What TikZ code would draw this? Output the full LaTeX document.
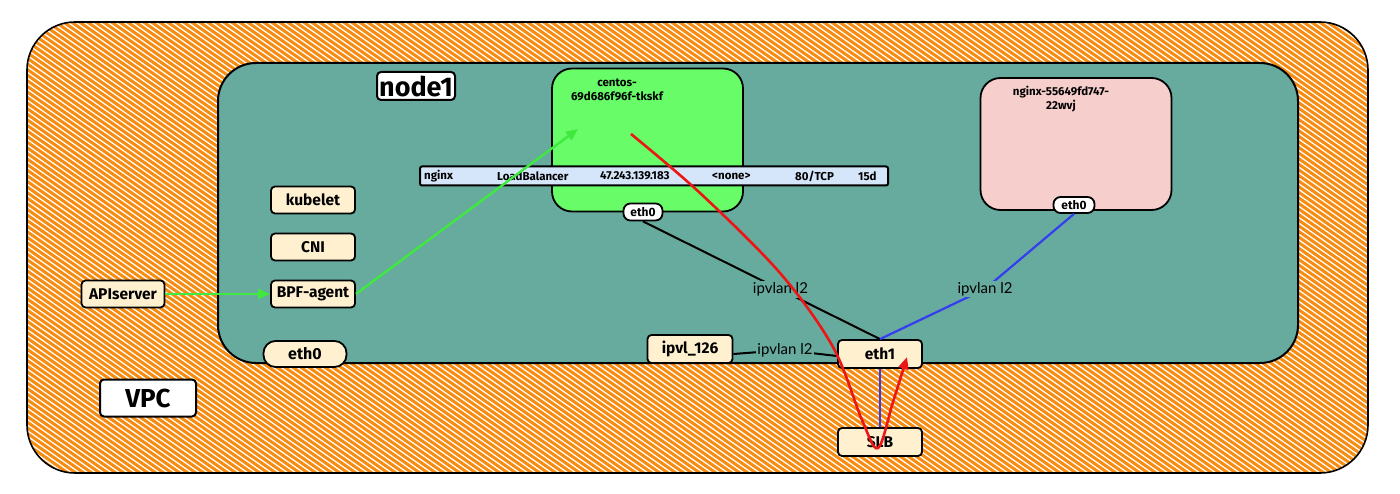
\documentclass[tikz,border=0pt]{standalone}
\usepackage{fontspec}
\setmainfont{Fira Sans}
\newfontfamily\lblfont{Lato}
\usetikzlibrary{arrows.meta}
\definecolor{hatchor}{RGB}{247,140,18}
\definecolor{tealbg}{RGB}{103,171,159}
\definecolor{podgreen}{RGB}{104,252,104}
\definecolor{podpink}{RGB}{246,206,204}
\definecolor{cream}{RGB}{255,241,208}
\definecolor{tblblue}{RGB}{214,230,250}
\definecolor{arrgreen}{RGB}{64,232,64}
\definecolor{arrred}{RGB}{236,22,22}
\definecolor{arrblue}{RGB}{52,62,240}
\tikzset{
  hatch/.style={hatchor, line width=3pt},
  cbox/.style={draw=black, line width=1.8pt, fill=cream, rounded corners=4pt,
    font=\bfseries\fontsize{15.5}{17}\selectfont, inner sep=0pt},
  pill/.style={draw=black, line width=1.8pt, fill=white, rounded corners=7pt,
    font=\bfseries\fontsize{12}{13}\selectfont, inner sep=0pt},
  podbox/.style={draw=black, line width=1.8pt, rounded corners=20pt, inner sep=0pt},
  tbltxt/.style={font=\bfseries\fontsize{11.5}{12}\selectfont, anchor=west, inner sep=0pt},
  lbl/.style={font=\lblfont\fontsize{15}{17}\selectfont, fill=tealbg, inner sep=1.5pt},
  blk/.style={black, line width=2pt},
  blu/.style={arrblue, line width=2.2pt},
  grn/.style={arrgreen, line width=2.4pt, -{Triangle[length=12pt,width=10pt]}},
  rd/.style={arrred, line width=2.6pt, -{Triangle[length=12pt,width=10pt]}},
}
\begin{document}
\begin{tikzpicture}[x=1pt,y=-1pt]
\useasboundingbox (0,0) rectangle (1400,494);
% VPC hatched area
\begin{scope}
  \clip[rounded corners=48pt] (27,22) rectangle (1368,473);
  \foreach \i in {-95,...,178} { \draw[hatch] ({\i*8},0) -- ++(706,494); }
\end{scope}
\draw[black, line width=1.6pt, rounded corners=48pt] (27,22) rectangle (1368,473);
% node1 area
\node[draw=black, line width=2pt, fill=tealbg, rounded corners=38pt, minimum width=1080pt, minimum height=300pt, inner sep=0pt] (node1area) at (758,213) {};
\node[draw=black, line width=2pt, fill=white, rounded corners=4pt, minimum width=78pt, minimum height=28pt, inner sep=0pt, font=\bfseries\fontsize{27}{28}\selectfont] (node1lbl) at (416,86) {node1};
% VPC label
\node[draw=black, line width=2pt, fill=white, rounded corners=4pt, minimum width=96pt, minimum height=37pt, inner sep=0pt, font=\fontsize{26}{28}\selectfont\bfseries] (vpclbl) at (148,398) {VPC};
% pods
\node[podbox, fill=podgreen, minimum width=191pt, minimum height=143pt] (centos) at (647.5,140) {};
\node[font=\bfseries\fontsize{11.5}{13.5}\selectfont, align=center, inner sep=0pt] (centostxt) at (617,90) {centos-\\69d686f96f-tkskf};
\node[podbox, fill=podpink, minimum width=191pt, minimum height=132pt] (nginxpod) at (1076,144) {};
\node[font=\bfseries\fontsize{11.5}{13.5}\selectfont, align=center, inner sep=0pt] (nginxtxt) at (1061,99) {nginx-55649fd747-\\22wvj};
% service table row
\node[draw=black, line width=2pt, fill=tblblue, rounded corners=2pt, minimum width=468pt, minimum height=19pt, inner sep=0pt] (svc) at (654,176) {};
\node[tbltxt] (t1) at (424,176) {nginx};
\node[tbltxt] (t2) at (497,176) {LoadBalancer};
\node[tbltxt] (t3) at (600,176) {47.243.139.183};
\node[tbltxt] (t4) at (712,176) {<none>};
\node[tbltxt] (t5) at (795,176) {80/TCP};
\node[tbltxt] (t6) at (858,176) {15d};
% pod interfaces
\node[pill, minimum width=39pt, minimum height=17pt] (ceth0) at (643,212) {eth0};
\node[pill, minimum width=41pt, minimum height=16pt] (neth0) at (1074,205) {eth0};
% node components
\node[cbox, minimum width=84pt, minimum height=27pt] (kubelet) at (313,200) {kubelet};
\node[cbox, minimum width=84pt, minimum height=27pt] (cni) at (313,247) {CNI};
\node[cbox, minimum width=84pt, minimum height=27pt] (bpf) at (313,294) {BPF-agent};
\node[cbox, minimum width=83pt, minimum height=27pt] (api) at (123,294) {APIserver};
\node[cbox, rounded corners=12pt, minimum width=83pt, minimum height=26pt, font=\bfseries\fontsize{16}{18}\selectfont] (neth0node) at (305,354) {eth0};
\node[cbox, minimum width=85pt, minimum height=28pt] (ipvl) at (690,349) {ipvl\_126};
\node[cbox, minimum width=84pt, minimum height=28pt] (eth1) at (880,354) {eth1};
\node[cbox, minimum width=84pt, minimum height=28pt] (slb) at (880,442) {SLB};
% connectors
\draw[blk] (ceth0.south) -- node[lbl, pos=0.58] (l1) {ipvlan l2} (eth1.north);
\coordinate (bmid) at (985,289);
\draw[blu] (neth0.south) -- (bmid) -- (eth1.north);
\node[lbl] (l2) at (bmid) {ipvlan l2};
\coordinate (imid) at (785,350);
\draw[blk] ([yshift=-5pt]ipvl.east) -- (imid) -- ([yshift=-2pt]eth1.west);
\node[lbl] (l3) at (imid) {ipvlan l2};
\draw[blu] (eth1.south) -- (slb.north);
\draw[grn] (api.east) -- (bpf.west);
\coordinate (gtip) at (578,129);
\draw[grn] (bpf.east) -- (gtip);
\coordinate (rstart) at (631,134);
\coordinate (rend) at (907,357);
\draw[rd] plot[smooth, tension=0.55] coordinates {(rstart) (700,193) (780,273) (833,347) (862,420) (878,448) (893,402) (rend)};
\end{tikzpicture}
\end{document}
